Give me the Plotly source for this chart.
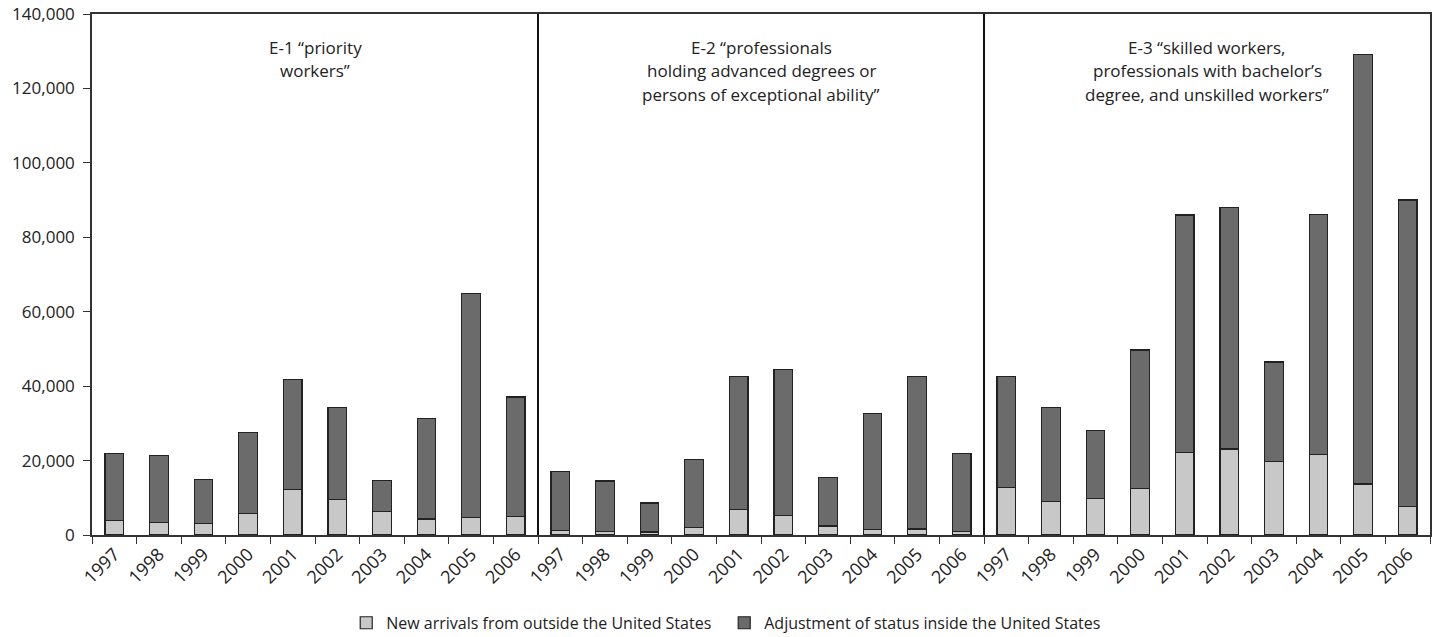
import plotly.graph_objects as go

years = ["1997", "1998", "1999", "2000", "2001", "2002", "2003", "2004", "2005", "2006"]
panels = ["E-1", "E-2", "E-3"]
panel_titles = [
    ["E-1 \u201cpriority", "workers\u201d"],
    ["E-2 \u201cprofessionals", "holding advanced degrees or", "persons of exceptional ability\u201d"],
    ["E-3 \u201cskilled workers,", "professionals with bachelor\u2019s", "degree, and unskilled workers\u201d"],
]

# New arrivals from outside the United States
e1_new = [3900, 3300, 3100, 5800, 12200, 9500, 6400, 4300, 4700, 4900]
e2_new = [1200, 1000, 800, 2100, 6800, 5300, 2400, 1500, 1600, 1000]
e3_new = [12800, 9000, 9800, 12600, 22100, 23100, 19700, 21700, 13700, 7700]

# Totals (new arrivals + adjustment of status)
e1_total = [21800, 21400, 14900, 27600, 41800, 34300, 14600, 31400, 64900, 37100]
e2_total = [17100, 14500, 8600, 20300, 42600, 44500, 15500, 32600, 42600, 22000]
e3_total = [42500, 34300, 28000, 49700, 86000, 88100, 46500, 86100, 129200, 90000]

new_all = e1_new + e2_new + e3_new
total_all = e1_total + e2_total + e3_total
adj_all = [t - n for t, n in zip(total_all, new_all)]
labels_all = years * 3
xpos = list(range(len(labels_all)))

font_family = "Open Sans, Liberation Sans, sans-serif"

fig = go.Figure()
fig.add_trace(go.Bar(
    x=xpos, y=new_all, name="New arrivals from outside the United States",
    marker=dict(color="#c8c8c8", line=dict(color="#222222", width=1.2)),
    width=0.42,
))
fig.add_trace(go.Bar(
    x=xpos, y=adj_all, name="Adjustment of status inside the United States",
    marker=dict(color="#6b6b6b", line=dict(color="#222222", width=1.2)),
    width=0.42,
))

# panel dividers
for b in [9.5, 19.5]:
    fig.add_shape(type="line", xref="x", yref="paper", x0=b, x1=b, y0=0, y1=1,
                  line=dict(color="#111111", width=2))

# panel titles, one annotation per line
for i, lines in enumerate(panel_titles):
    for k, line in enumerate(lines):
        fig.add_annotation(x=4.5 + 10 * i, y=1, xref="x", yref="paper", text=line,
                           showarrow=False, yanchor="middle", align="center",
                           yshift=-33 - 23.5 * k,
                           font=dict(size=17, color="#222222", family=font_family))

fig.update_layout(
    barmode="stack",
    width=1434, height=637,
    margin=dict(l=92, r=4, t=14, b=102, autoexpand=False),
    paper_bgcolor="white", plot_bgcolor="white",
    font=dict(family=font_family, size=16, color="#222222"),
    showlegend=True,
    legend=dict(orientation="h", x=0.19, xanchor="left", y=-0.136, yanchor="top",
                entrywidth=333, font=dict(size=16), traceorder="normal"),
)
fig.update_xaxes(
    range=[-0.5, 29.5],
    tickmode="array", tickvals=xpos, ticktext=labels_all, tickangle=-45,
    ticks="", showgrid=False, zeroline=False,
    tickfont=dict(size=18), ticklabeloverflow="allow",
    showline=True, linecolor="#333333", linewidth=1.5, mirror=True,
    minor=dict(tickmode="linear", tick0=-0.5, dtick=1, ticks="outside", ticklen=7,
               tickcolor="#333333", showgrid=False),
)
fig.update_yaxes(
    range=[0, 140000], dtick=20000, tickformat=",",
    ticks="outside", ticklen=7, tickcolor="#333333",
    tickfont=dict(size=17), ticklabelstandoff=5, ticklabeloverflow="allow",
    showgrid=False, zeroline=False,
    showline=True, linecolor="#333333", linewidth=1.5, mirror=True,
)

fig.write_html(
    "out.html",
    config={"displayModeBar": False},
    post_script="document.body.style.margin='0';document.body.style.overflow='hidden';",
)
